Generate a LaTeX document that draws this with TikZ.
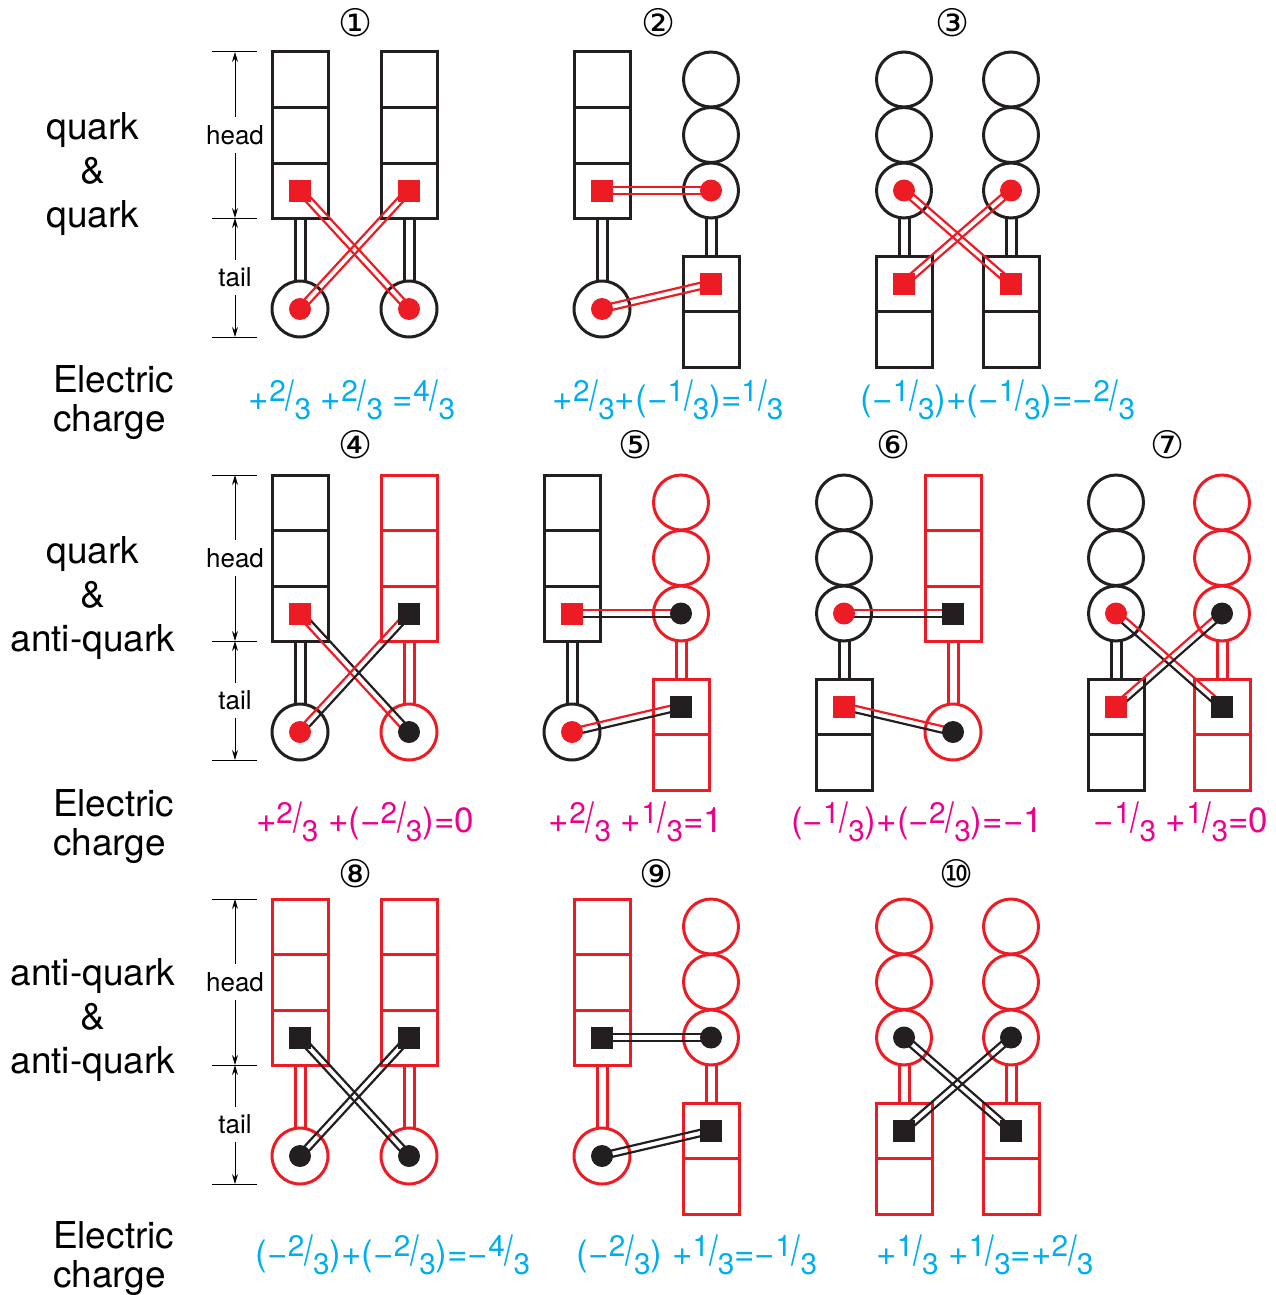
\documentclass[tikz,border=0pt]{standalone}
\usepackage{fontspec}
\setmainfont{TeX Gyre Heros}
\newfontfamily\circfont{DejaVu Sans}
\usetikzlibrary{calc,arrows.meta}

\definecolor{qred}{RGB}{237,28,36}
\definecolor{qblack}{RGB}{35,31,32}
\definecolor{qcyan}{RGB}{0,174,239}
\definecolor{qpink}{RGB}{236,0,140}

\pgfdeclarelayer{back}
\pgfdeclarelayer{links}
\pgfsetlayers{back,links,main}

\tikzset{
	part/.style={draw=#1, line width=1.5pt},
	stick/.style={draw=#1, double=white, line width=1.5pt, double distance=3.5pt},
	sq/.style={fill=#1, minimum size=11pt, inner sep=0pt},
	dot/.style={circle, fill=#1, minimum size=11pt, inner sep=0pt},
	wire/.style={draw=#1, line width=1.1pt},
	num/.style={font=\circfont\fontsize{19}{19}\selectfont},
	big/.style={font=\fontsize{18.5}{22}\selectfont, align=center},
	elec/.style={font=\fontsize{18.5}{19.5}\selectfont, align=left, anchor=west},
	chg/.style={font=\fontsize{17.5}{17.5}\selectfont, text=#1},
	dimline/.style={line width=0.5pt, {Stealth[length=5pt,width=3pt]}-{Stealth[length=5pt,width=3pt]}},
	tick/.style={line width=0.5pt},
	dimtext/.style={font=\fontsize{13}{13}\selectfont, fill=white, inner xsep=1pt, inner ysep=4pt},
}

% fraction as printed: raised numerator, slash, lowered denominator
\newcommand{\fr}[2]{\raisebox{.28em}{\scalebox{.85}{#1}}\scalebox{.9}[1.2]{/}\raisebox{-.25em}{\scalebox{.85}{#2}}}

% head box on top, ring below
\newcommand{\upq}[5]{%
	\begin{pgfonlayer}{back}
		\draw[stick=#4] (#2,#3+166) -- (#2,#3+229);
		\draw[part=#4] (#2-28,#3) rectangle (#2+28,#3+166);
		\draw[part=#4] (#2-28,#3+55.5) -- (#2+28,#3+55.5) (#2-28,#3+111) -- (#2+28,#3+111);
		\draw[part=#4] (#2,#3+257) circle (28);
	\end{pgfonlayer}
	\node[sq=#5] (#1s) at (#2,#3+138.5) {};
	\node[dot=#5] (#1d) at (#2,#3+257) {};
}

% rings on top, box below
\newcommand{\dnq}[5]{%
	\begin{pgfonlayer}{back}
		\draw[stick=#4] (#2,#3+166) -- (#2,#3+204);
		\foreach \k in {27.5,83,138.5} \draw[part=#4] (#2,#3+\k) circle (27.5);
		\draw[part=#4] (#2-28,#3+204) rectangle (#2+28,#3+315);
		\draw[part=#4] (#2-28,#3+259.5) -- (#2+28,#3+259.5);
	\end{pgfonlayer}
	\node[dot=#5] (#1d) at (#2,#3+138.5) {};
	\node[sq=#5] (#1s) at (#2,#3+231.5) {};
}

% pair of thin lines, #3 on the left, #4 on the right
\newcommand{\link}[4]{%
	\begin{pgfonlayer}{links}
		\draw[wire=#3] ($(#1)!1.6pt!90:(#2)$) -- ($(#2)!1.6pt!-90:(#1)$);
		\draw[wire=#4] ($(#1)!1.6pt!-90:(#2)$) -- ($(#2)!1.6pt!90:(#1)$);
	\end{pgfonlayer}
}

% head / tail measure
\newcommand{\dims}[2]{%
	\coordinate (#1a) at (235,#2);
	\coordinate (#1b) at (235,#2+166);
	\coordinate (#1c) at (235,#2+285);
	\draw[tick] (212,#2) -- (257,#2) (212,#2+166) -- (257,#2+166) (212,#2+285) -- (257,#2+285);
	\draw[dimline] (#1a) -- node[dimtext] {head} (#1b);
	\draw[dimline] (#1b) -- node[dimtext] {tail} (#1c);
}

\begin{document}
\begin{tikzpicture}[x=0.5pt, y=-0.5pt]
	\useasboundingbox (0,0) rectangle (1275,1295);

	% quark & quark
	\node[big] (q1) at (93,174) {quark\\\&\\quark};
	\node[elec] (e1) at (46,403) {Electric\\charge};
	\dims{m1}{52}

	\node[num] (n1) at (356,23) {①};
	\upq{p1a}{300}{52}{qblack}{qred}
	\upq{p1b}{409}{52}{qblack}{qred}
	\link{p1as}{p1bd}{qred}{qred}
	\link{p1ad}{p1bs}{qred}{qred}

	\node[num] (n2) at (659,23) {②};
	\upq{p2a}{602}{52}{qblack}{qred}
	\dnq{p2b}{711}{52}{qblack}{qred}
	\link{p2as}{p2bd}{qred}{qred}
	\link{p2ad}{p2bs}{qred}{qred}

	\node[num] (n3) at (953,23) {③};
	\dnq{p3a}{904}{52}{qblack}{qred}
	\dnq{p3b}{1011}{52}{qblack}{qred}
	\link{p3ad}{p3bs}{qred}{qred}
	\link{p3as}{p3bd}{qred}{qred}

	\node[chg=qcyan] (c1) at (352,400) {+\fr23 +\fr23 =\fr43};
	\node[chg=qcyan] (c2) at (668,400) {+\fr23+(−\fr13)=\fr13};
	\node[chg=qcyan] (c3) at (998,400) {(−\fr13)+(−\fr13)=−\fr23};

	% quark & anti-quark
	\node[big] (q2) at (93,598) {quark\\\&\\anti-quark};
	\node[elec] (e2) at (46,827) {Electric\\charge};
	\dims{m2}{475}

	\node[num] (n4) at (356,445) {④};
	\upq{p4a}{300}{475}{qblack}{qred}
	\upq{p4b}{409}{475}{qred}{qblack}
	\link{p4as}{p4bd}{qblack}{qred}
	\link{p4ad}{p4bs}{qred}{qblack}

	\node[num] (n5) at (636,445) {⑤};
	\upq{p5a}{572}{475}{qblack}{qred}
	\dnq{p5b}{681}{475}{qred}{qblack}
	\link{p5as}{p5bd}{qred}{qblack}
	\link{p5ad}{p5bs}{qred}{qblack}

	\node[num] (n6) at (894,445) {⑥};
	\dnq{p6a}{844}{475}{qblack}{qred}
	\upq{p6b}{953}{475}{qred}{qblack}
	\link{p6ad}{p6bs}{qred}{qblack}
	\link{p6as}{p6bd}{qred}{qblack}

	\node[num] (n7) at (1168,445) {⑦};
	\dnq{p7a}{1116}{475}{qblack}{qred}
	\dnq{p7b}{1222}{475}{qred}{qblack}
	\link{p7ad}{p7bs}{qred}{qblack}
	\link{p7as}{p7bd}{qred}{qblack}

	\node[chg=qpink] (c4) at (365,822) {+\fr23 +(−\fr23)=0};
	\node[chg=qpink] (c5) at (636,822) {+\fr23 +\fr13=1};
	\node[chg=qpink] (c6) at (917,822) {(−\fr13)+(−\fr23)=−1};
	\node[chg=qpink] (c7) at (1181,822) {−\fr13 +\fr13=0};

	% anti-quark & anti-quark
	\node[big] (q3) at (93,1020) {anti-quark\\\&\\anti-quark};
	\node[elec] (e3) at (46,1259) {Electric\\charge};
	\dims{m3}{899}

	\node[num] (n8) at (356,874) {⑧};
	\upq{p8a}{300}{899}{qred}{qblack}
	\upq{p8b}{409}{899}{qred}{qblack}
	\link{p8as}{p8bd}{qblack}{qblack}
	\link{p8ad}{p8bs}{qblack}{qblack}

	\node[num] (n9) at (657,874) {⑨};
	\upq{p9a}{602}{899}{qred}{qblack}
	\dnq{p9b}{711}{899}{qred}{qblack}
	\link{p9as}{p9bd}{qblack}{qblack}
	\link{p9ad}{p9bs}{qblack}{qblack}

	\node[num] (n10) at (957,874) {⑩};
	\dnq{p10a}{904}{899}{qred}{qblack}
	\dnq{p10b}{1011}{899}{qred}{qblack}
	\link{p10ad}{p10bs}{qblack}{qblack}
	\link{p10as}{p10bd}{qblack}{qblack}

	\node[chg=qcyan] (c8) at (393,1255) {(−\fr23)+(−\fr23)=−\fr43};
	\node[chg=qcyan] (c9) at (697,1255) {(−\fr23) +\fr13=−\fr13};
	\node[chg=qcyan] (c10) at (985,1255) {+\fr13 +\fr13=+\fr23};
\end{tikzpicture}
\end{document}
